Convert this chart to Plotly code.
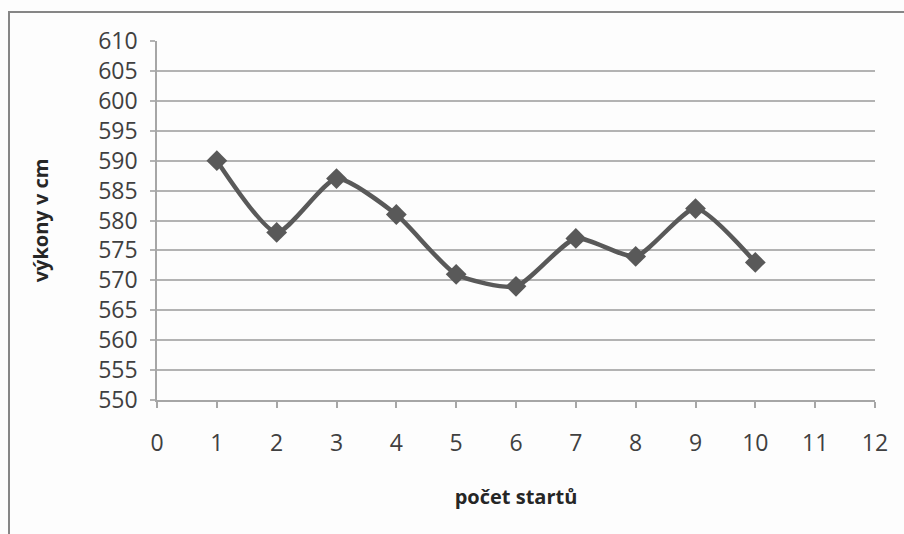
import plotly.graph_objects as go

# Number of starts and the result (cm) achieved in each
starts = [1, 2, 3, 4, 5, 6, 7, 8, 9, 10]
results_cm = [590, 578, 587, 581, 571, 569, 577, 574, 582, 573]

x_ticks = list(range(0, 13))
y_ticks = list(range(550, 611, 5))

W, H = 904, 534
L, R, T, B = 157, 29, 41, 134
pw, ph = W - L - R, H - T - B

fig = go.Figure()
fig.add_trace(go.Scatter(
    x=starts, y=results_cm,
    mode="lines+markers",
    line=dict(color="#595959", width=4.5, shape="spline", smoothing=0.6),
    marker=dict(symbol="diamond", size=16, color="#595959"),
    showlegend=False,
))

font_family = "Open Sans, Noto Sans, sans-serif"

fig.update_layout(
    width=W, height=H,
    margin=dict(l=L, r=R, t=T, b=B),
    paper_bgcolor="#fdfdfd",
    plot_bgcolor="#fdfdfd",
    font=dict(family=font_family, size=23, color="#404040"),
    xaxis=dict(
        range=[0, 12], tickvals=x_ticks, showgrid=False, zeroline=False,
        showline=True, linecolor="#a6a6a6", linewidth=1.5,
        ticks="outside", ticklen=6, tickcolor="#a6a6a6", tickwidth=1.5,
        ticklabelstandoff=16,
        title=dict(text="<b>počet startů</b>", font=dict(size=20, color="#262626"), standoff=33),
    ),
    yaxis=dict(
        range=[550, 610], tickvals=y_ticks, showgrid=True, gridcolor="#b3b3b3", gridwidth=1.5,
        zeroline=False, showline=True, linecolor="#a6a6a6", linewidth=1.5,
        ticks="outside", ticklen=5, tickcolor="#b3b3b3", tickwidth=1.5,
        ticklabelstandoff=8,
        title=dict(text="<b>výkony v cm</b>", font=dict(size=20, color="#262626"), standoff=44),
    ),
    shapes=[dict(
        type="rect", xref="paper", yref="paper",
        x0=(9 - L) / pw, x1=(W + 20 - L) / pw,
        y0=-(H + 20 - (T + ph)) / ph, y1=(T + ph - 12) / ph,
        line=dict(color="#868686", width=2), fillcolor="rgba(0,0,0,0)", layer="below",
    )],
)

fig.write_html("out.html")
